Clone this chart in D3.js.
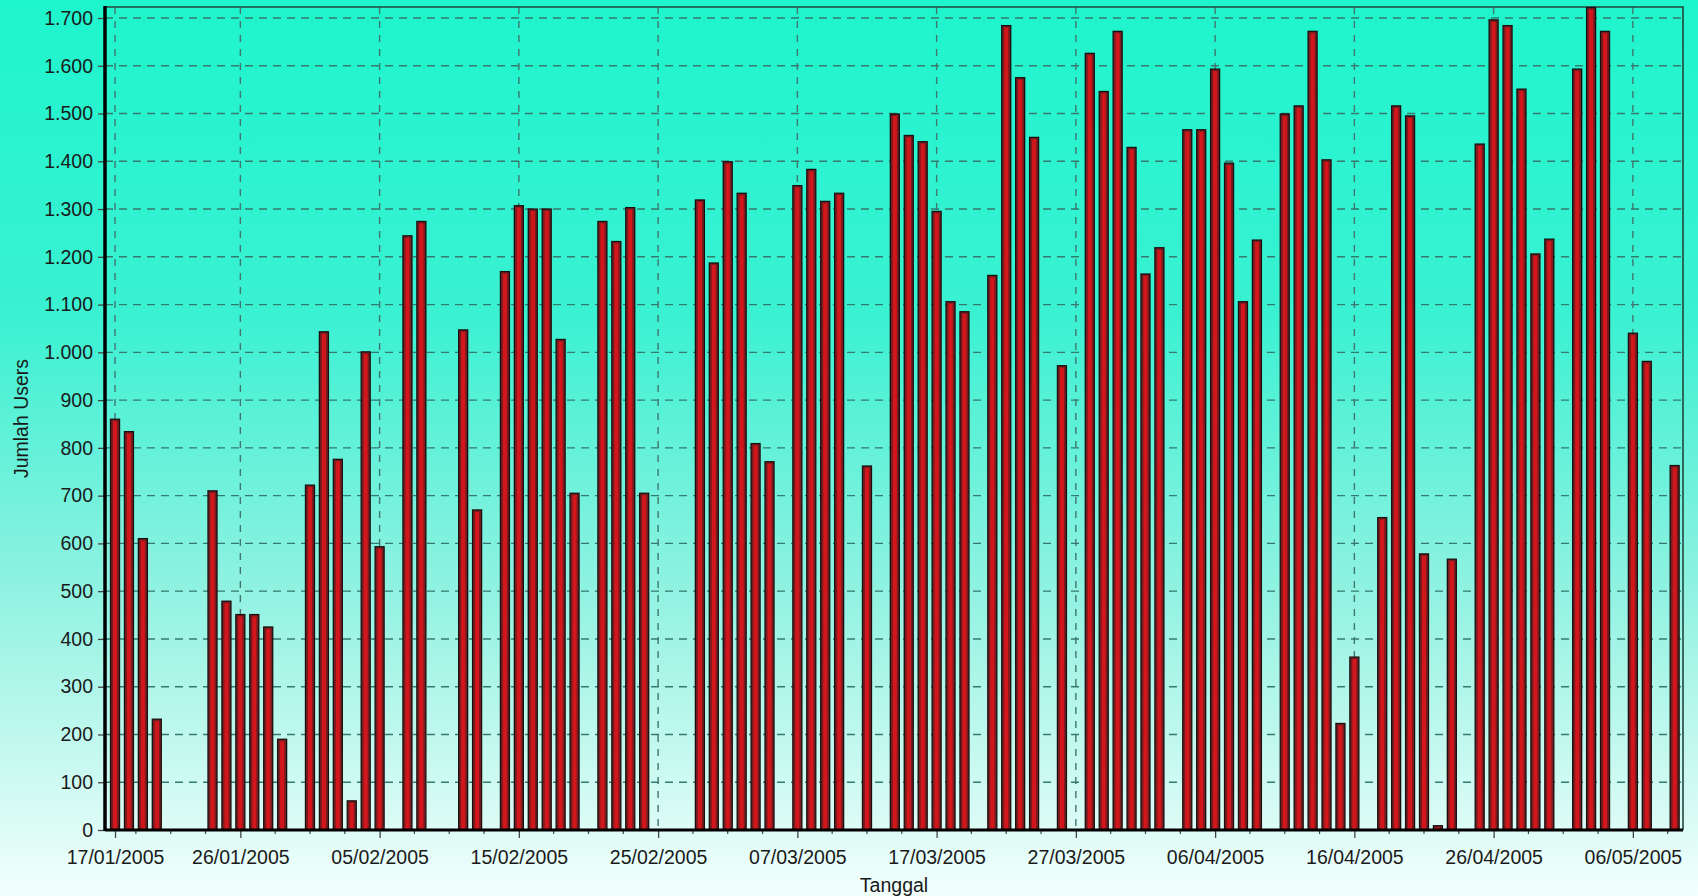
<!DOCTYPE html>
<html>
<head>
<meta charset="utf-8">
<script src="https://cdn.jsdelivr.net/npm/d3@7/dist/d3.min.js"></script>
<style>
    html, body { margin: 0; padding: 0; }
    body { width: 1698px; height: 896px; overflow: hidden; }
    svg text { font-family: "Liberation Sans", Arial, sans-serif; fill: #1a1a1a; }
</style>
</head>
<body>
<svg id="chart" width="1698" height="896"></svg>
<script>
// daily users, first day 17/01/2005
var startDate = "2005-01-17";
var userCounts = [
    860, 834, 610, 232, 0, 0, 0, 710, 479, 451,
    451, 425, 190, 0, 722, 1043, 776, 61, 1001, 593,
    0, 1244, 1274, 0, 0, 1047, 670, 0, 1169, 1307,
    1300, 1300, 1027, 705, 0, 1274, 1232, 1303, 705, 0,
    0, 0, 1319, 1187, 1399, 1333, 809, 771, 0, 1349,
    1383, 1316, 1333, 0, 762, 0, 1499, 1454, 1441, 1295,
    1106, 1085, 0, 1161, 1684, 1575, 1450, 0, 972, 0,
    1626, 1546, 1672, 1429, 1164, 1219, 0, 1466, 1466, 1593,
    1396, 1106, 1235, 0, 1499, 1516, 1672, 1403, 223, 362,
    0, 654, 1516, 1495, 578, 9, 567, 0, 1436, 1696,
    1684, 1551, 1206, 1237, 0, 1593, 1722, 1672, 0, 1040,
    981, 0, 763
];
var tickDates = [
    "2005-01-17", "2005-01-26", "2005-02-05", "2005-02-15", "2005-02-25", "2005-03-07",
    "2005-03-17", "2005-03-27", "2005-04-06", "2005-04-16", "2005-04-26", "2005-05-06"
];
var yTicks = d3.range(0, 1800, 100);

var DAY = 864e5;
var parseDate = d3.utcParse("%Y-%m-%d");
var day0 = parseDate(startDate);

var data = userCounts.map(function(v, i) {
    return {time: new Date(day0.getTime() + i * DAY), value: v};
});

var margin = {top: 7, right: 15, bottom: 66, left: 105},
    width = 1698 - margin.left - margin.right,
    height = 896 - margin.top - margin.bottom;

var svg = d3.select("#chart");

// background gradient
var grad = svg.append("defs").append("linearGradient")
    .attr("id", "bg")
    .attr("x1", 0).attr("y1", 0).attr("x2", 0).attr("y2", 1);
grad.append("stop").attr("offset", "0").attr("stop-color", "#1ef5cd");
grad.append("stop").attr("offset", "0.35").attr("stop-color", "#3af1d2");
grad.append("stop").attr("offset", "0.65").attr("stop-color", "#8ef2e1");
grad.append("stop").attr("offset", "0.88").attr("stop-color", "#d0faf2");
grad.append("stop").attr("offset", "1").attr("stop-color", "#f3fffd");

svg.append("rect")
    .attr("width", 1698)
    .attr("height", 896)
    .attr("fill", "url(#bg)");

var g = svg.append("g")
    .attr("transform", "translate(" + margin.left + "," + margin.top + ")");

var x = d3.scaleUtc()
    .domain([new Date(day0.getTime() - 0.72 * DAY), new Date(day0.getTime() + 112.6 * DAY)])
    .range([0, width]);
var y = d3.scaleLinear()
    .domain([0, d3.max(userCounts) + 1])
    .range([height, 0]);

var majorTicks = tickDates.map(parseDate);
var minorTicks = [];
majorTicks.forEach(function(t) {
    [-2.5, -5, -7.5].forEach(function(o) {
        var m = new Date(t.getTime() + o * DAY);
        if (x(m) > 0) minorTicks.push(m);
    });
});
minorTicks.push(new Date(majorTicks[majorTicks.length - 1].getTime() + 2.5 * DAY));

var idLocale = d3.formatLocale({decimal: ",", thousands: ".", grouping: [3], currency: ["Rp", ""]});
var fmtY = idLocale.format(",d");

// grid
g.append("g")
    .selectAll("line")
    .data(yTicks.filter(function(d) { return d > 0; }))
    .join("line")
    .attr("x1", 0).attr("x2", width)
    .attr("y1", function(d) { return y(d); })
    .attr("y2", function(d) { return y(d); })
    .attr("stroke", "#357a6e")
    .attr("stroke-width", 1.4)
    .attr("stroke-dasharray", "8,6");

g.append("g")
    .selectAll("line")
    .data(majorTicks)
    .join("line")
    .attr("x1", function(d) { return x(d); })
    .attr("x2", function(d) { return x(d); })
    .attr("y1", 0).attr("y2", height)
    .attr("stroke", "#41766e")
    .attr("stroke-width", 1.4)
    .attr("stroke-dasharray", "7,7");

// plot frame (top and right)
g.append("path")
    .attr("d", "M0,0H" + width + "V" + height)
    .attr("fill", "none")
    .attr("stroke", "#24463f")
    .attr("stroke-width", 1.6);

// bars
var barW = 9;
var bars = g.append("g")
    .selectAll("g")
    .data(data.filter(function(d) { return d.value > 0; }))
    .join("g");

bars.append("rect")
    .attr("x", function(d) { return x(d.time) - barW / 2; })
    .attr("y", function(d) { return y(d.value); })
    .attr("width", barW)
    .attr("height", function(d) { return height - y(d.value); })
    .attr("fill", "#7a1c20")
    .attr("stroke", "#1b1010")
    .attr("stroke-width", 1.3);

bars.append("rect")
    .attr("x", function(d) { return x(d.time) - 2; })
    .attr("y", function(d) { return Math.min(y(d.value) + 2, height); })
    .attr("width", 4)
    .attr("height", function(d) { return Math.max(height - y(d.value) - 2, 0); })
    .attr("fill", "#d2161c");

// y axis
var yAxis = g.append("g")
    .call(d3.axisLeft(y).tickValues(yTicks).tickFormat(fmtY).tickSize(7).tickPadding(5));
yAxis.select(".domain").remove();
yAxis.selectAll(".tick line").attr("stroke", "#444").attr("stroke-width", 1.3);
yAxis.selectAll("text")
    .style("font-size", "19.5px")
    .attr("fill", "#1a1a1a");

g.append("line")
    .attr("x1", 0).attr("x2", 0)
    .attr("y1", -1).attr("y2", height + 1)
    .attr("stroke", "#000")
    .attr("stroke-width", 3.5);

// x axis
var xAxis = g.append("g")
    .attr("transform", "translate(0," + height + ")")
    .call(d3.axisBottom(x).tickValues(majorTicks).tickFormat(d3.utcFormat("%d/%m/%Y")).tickSize(8).tickPadding(12));
xAxis.select(".domain").remove();
xAxis.selectAll(".tick line").attr("stroke", "#444").attr("stroke-width", 1.3);
xAxis.selectAll("text")
    .style("font-size", "19.5px")
    .attr("fill", "#1a1a1a");

xAxis.append("g")
    .selectAll("line")
    .data(minorTicks)
    .join("line")
    .attr("x1", function(d) { return x(d); })
    .attr("x2", function(d) { return x(d); })
    .attr("y1", 0).attr("y2", 4)
    .attr("stroke", "#444")
    .attr("stroke-width", 1.2);

g.append("line")
    .attr("x1", 0).attr("x2", width)
    .attr("y1", height).attr("y2", height)
    .attr("stroke", "#000")
    .attr("stroke-width", 3);

// axis titles
svg.append("text")
    .attr("x", margin.left + width / 2)
    .attr("y", 892)
    .attr("text-anchor", "middle")
    .style("font-size", "19.5px")
    .text("Tanggal");

svg.append("text")
    .attr("transform", "translate(28," + (margin.top + height / 2) + ") rotate(-90)")
    .attr("text-anchor", "middle")
    .style("font-size", "19.5px")
    .text("Jumlah Users");
</script>
</body>
</html>
